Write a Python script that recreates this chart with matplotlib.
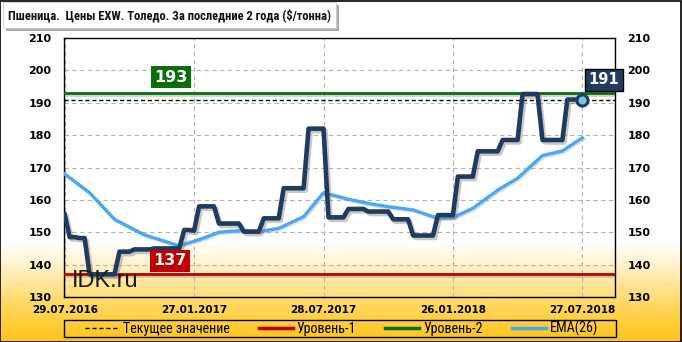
import numpy as np
import pandas as pd
import matplotlib
matplotlib.use("Agg")
import matplotlib.pyplot as plt
import matplotlib.patheffects as pe
from matplotlib import font_manager
from matplotlib.colors import LinearSegmentedColormap
from matplotlib.lines import Line2D

# ── data (weekly EXW prices, $/t) ─────────────────────────────────────────────
START = "2016-07-29"
price = [
    155.5, 148.5, 148.5, 148.2, 148.2, 137.0, 137.0, 137.0, 137.0, 137.0,
    137.0, 144.0, 144.0, 144.0, 144.7, 144.7, 144.7, 144.7, 145.0, 145.0,
    145.0, 145.0, 145.0, 145.0, 150.7, 150.7, 150.5, 158.0, 158.0, 158.0,
    158.0, 152.7, 152.7, 152.7, 152.7, 152.7, 150.2, 150.2, 150.2, 150.2,
    154.3, 154.3, 154.3, 154.3, 163.6, 163.6, 163.6, 163.6, 163.6, 182.0,
    182.0, 182.0, 182.0, 154.6, 154.6, 154.6, 154.6, 157.2, 157.2, 157.2,
    157.2, 156.4, 156.4, 156.4, 156.4, 156.4, 154.0, 154.0, 154.0, 154.0,
    149.0, 149.0, 149.0, 149.0, 149.0, 155.3, 155.3, 155.3, 155.3, 167.2,
    167.2, 167.2, 167.2, 175.0, 175.0, 175.0, 175.0, 175.0, 178.5, 178.5,
    178.5, 178.5, 192.7, 192.7, 192.7, 192.7, 178.5, 178.5, 178.5, 178.5,
    178.5, 191.0, 191.0, 191.0, 191.0,
]
ema_dates = ["2016-07-29", "2016-09-02", "2016-10-07", "2016-11-18", "2017-01-06",
             "2017-02-03", "2017-03-03", "2017-03-31", "2017-04-28", "2017-05-26",
             "2017-06-30", "2017-07-28", "2017-09-01", "2017-09-29", "2017-10-27",
             "2017-12-01", "2018-01-05", "2018-01-26", "2018-02-23", "2018-03-30",
             "2018-04-27", "2018-06-01", "2018-06-29", "2018-07-27"]
ema_values = [168.0, 162.2, 154.0, 149.2, 145.8, 147.7, 150.0, 150.5, 150.2, 151.2,
              154.8, 162.2, 160.2, 158.9, 157.9, 156.9, 154.3, 154.5, 157.4, 163.0,
              166.7, 173.7, 175.1, 179.2]
level1 = 137
level2 = 193
tick_dates = ["2016-07-29", "2017-01-27", "2017-07-28", "2018-01-26", "2018-07-27"]
yticks = [130, 140, 150, 160, 170, 180, 190, 200, 210]
legend_labels = ["Текущее значение", "Уровень-1", "Уровень-2", "EMA(26)"]
title = "Пшеница.  Цены EXW. Толедо. За последние 2 года ($/тонна)"

dates = pd.date_range(START, periods=len(price), freq="7D")
ema_x = pd.to_datetime(ema_dates)
current = price[-1]

# ── colours / fonts ───────────────────────────────────────────────────────────
NAVY = "#203A60"
EMA_C = "#4AA8F5"
RED = "#C00000"
GREEN = "#0B6E0B"
GRID_C = "#B4B4B4"

installed = {f.name for f in font_manager.fontManager.ttflist}
NARROW = next((n for n in ["Liberation Sans Narrow", "DejaVu Sans Condensed",
                           "Roboto Condensed", "Open Sans Condensed"] if n in installed),
              "Liberation Sans")

fig = plt.figure(figsize=(6.82, 3.42), dpi=100)
W, H = 682, 342
PX = 100 / 72   # px per point

# background gradient (white → golden at the bottom)
bg = fig.add_axes([0, 0, 1, 1], zorder=-10)
cmap = LinearSegmentedColormap.from_list(
    "bg", [(0.0, "#FFC41A"), (0.10, "#FFD659"), (0.20, "#FFEDB5"),
           (0.29, "#FFFFFF"), (1.0, "#FFFFFF")])
grad = np.linspace(0, 1, 256).reshape(-1, 1)
bg.imshow(grad, aspect="auto", cmap=cmap, origin="lower", extent=[0, 1, 0, 1])
bg.set_xlim(0, 1)
bg.set_ylim(0, 1)
bg.axis("off")
fig.patches.append(plt.Rectangle((0.0005, 0.001), 0.998, 0.997, transform=fig.transFigure,
                                 fill=False, edgecolor="black", linewidth=1.2))

# title box with shadow
fig.patches.append(plt.Rectangle((6 / W, 1 - 31 / H), 333 / W, 26 / H,
                                 transform=fig.transFigure, facecolor="#A8A8A8",
                                 edgecolor="none"))
fig.patches.append(plt.Rectangle((3 / W, 1 - 28 / H), 333 / W, 26 / H,
                                 transform=fig.transFigure, facecolor="white",
                                 edgecolor="#C8C8C8", linewidth=0.6))
title_txt = fig.text(8 / W, 1 - 15 / H, title, ha="left", va="center", fontsize=10,
                     fontweight="bold", family=NARROW, color="#111111")

ax = fig.add_axes([64 / W, 1 - 297 / H, 551 / W, 259 / H])
ax.set_facecolor("none")

line_shadow = [pe.SimpleLineShadow(offset=(1.2, -1.5), shadow_color="#888888", alpha=0.4),
               pe.Normal()]
ax.axhline(level2, color=GREEN, linewidth=2, zorder=3, path_effects=line_shadow)
ax.axhline(level1, color=RED, linewidth=2, zorder=3, path_effects=line_shadow)
ax.axhline(current, color="black", linewidth=1, linestyle=(0, (3, 2)), zorder=3)

ax.plot(ema_x, ema_values, color=EMA_C, linewidth=2.4, zorder=4,
        path_effects=[pe.SimpleLineShadow(offset=(1, -1), shadow_color="#999999", alpha=0.3),
                      pe.Normal()])
ax.plot(dates, price, color=NAVY, linewidth=3.3, zorder=5, solid_joinstyle="round",
        path_effects=[pe.SimpleLineShadow(offset=(1.5, -1.8), shadow_color="#777777", alpha=0.4),
                      pe.Normal()])
ax.plot(dates[-1:], price[-1:], "o", markersize=8, markerfacecolor="#7EC3DC",
        markeredgecolor=NAVY, markeredgewidth=2.2, zorder=6)

# value boxes
box_kw = dict(ha="center", va="center", fontsize=11.5, fontweight="bold", color="white",
              zorder=8, transform=ax.transAxes)
ax.text(0.194, 0.849, f"{level2}", bbox=dict(boxstyle="square,pad=0.22", facecolor=GREEN,
        edgecolor="none"), **box_kw)
ax.text(0.192, 0.139, f"{level1}", bbox=dict(boxstyle="square,pad=0.22", facecolor=RED,
        edgecolor="none"), **box_kw)
ax.text(0.98, 0.838, f"{current:.0f}", bbox=dict(boxstyle="square,pad=0.25",
        facecolor=NAVY, edgecolor="black", linewidth=1), clip_on=False,
        **{**box_kw, "fontsize": 10.5})

ax.text(0.015, 0.04, "IDK.ru", transform=ax.transAxes, fontsize=17,
        family="Liberation Sans", color="#1A1A1A", zorder=7)

# axes
ax.set_ylim(130, 210)
ax.set_yticks(yticks)
ax.set_xlim(pd.Timestamp("2016-07-28"), pd.Timestamp("2018-09-11"))
ax.set_xticks(pd.to_datetime(tick_dates))
ax.set_xticklabels([pd.Timestamp(d).strftime("%d.%m.%Y") for d in tick_dates])
ax.tick_params(axis="y", length=0, pad=9, labelsize=8, labelright=True)
ax.tick_params(axis="x", length=0, pad=5.5, labelsize=7.5)
for lab in ax.get_xticklabels():
    lab.set_fontweight("bold")
for t in ax.yaxis.get_major_ticks():
    t.label1.set_fontweight("bold")
    t.label2.set_fontweight("bold")
ax.grid(True, color=GRID_C, linestyle=(0, (4, 3)), linewidth=0.8, zorder=0)
for s in ax.spines.values():
    s.set_color("black")
    s.set_linewidth(1)

# fit title width to the reference
fig.canvas.draw()
r = fig.canvas.get_renderer()
title_txt.set_fontsize(10 * 325 / title_txt.get_window_extent(r).width)

# legend font sized so "Текущее значение" is ~106 px wide
probe = fig.text(0, 0, legend_labels[0], family=NARROW, fontsize=10)
leg_fs = 10 * 106 / probe.get_window_extent(r).width
probe.remove()
fs_px = leg_fs * PX

fig.patches.append(plt.Rectangle((64 / W, 1 - 337 / H), 552 / W, 17 / H,
                                 transform=fig.transFigure, fill=False,
                                 edgecolor="black", linewidth=1))
handles = [
    Line2D([], [], color="black", linewidth=1, linestyle=(0, (3, 2))),
    Line2D([], [], color=RED, linewidth=2.5),
    Line2D([], [], color=GREEN, linewidth=2.5),
    Line2D([], [], color=EMA_C, linewidth=2.5),
]
leg = fig.legend(handles, legend_labels, loc="center", ncol=4,
                 bbox_to_anchor=(341.5 / W, 1 - 328.5 / H),
                 prop={"family": NARROW, "size": leg_fs}, frameon=False,
                 handlelength=34 / fs_px, handletextpad=4 / fs_px,
                 columnspacing=29 / fs_px, borderpad=0, borderaxespad=0)

fig.savefig("out.png", dpi=100)
